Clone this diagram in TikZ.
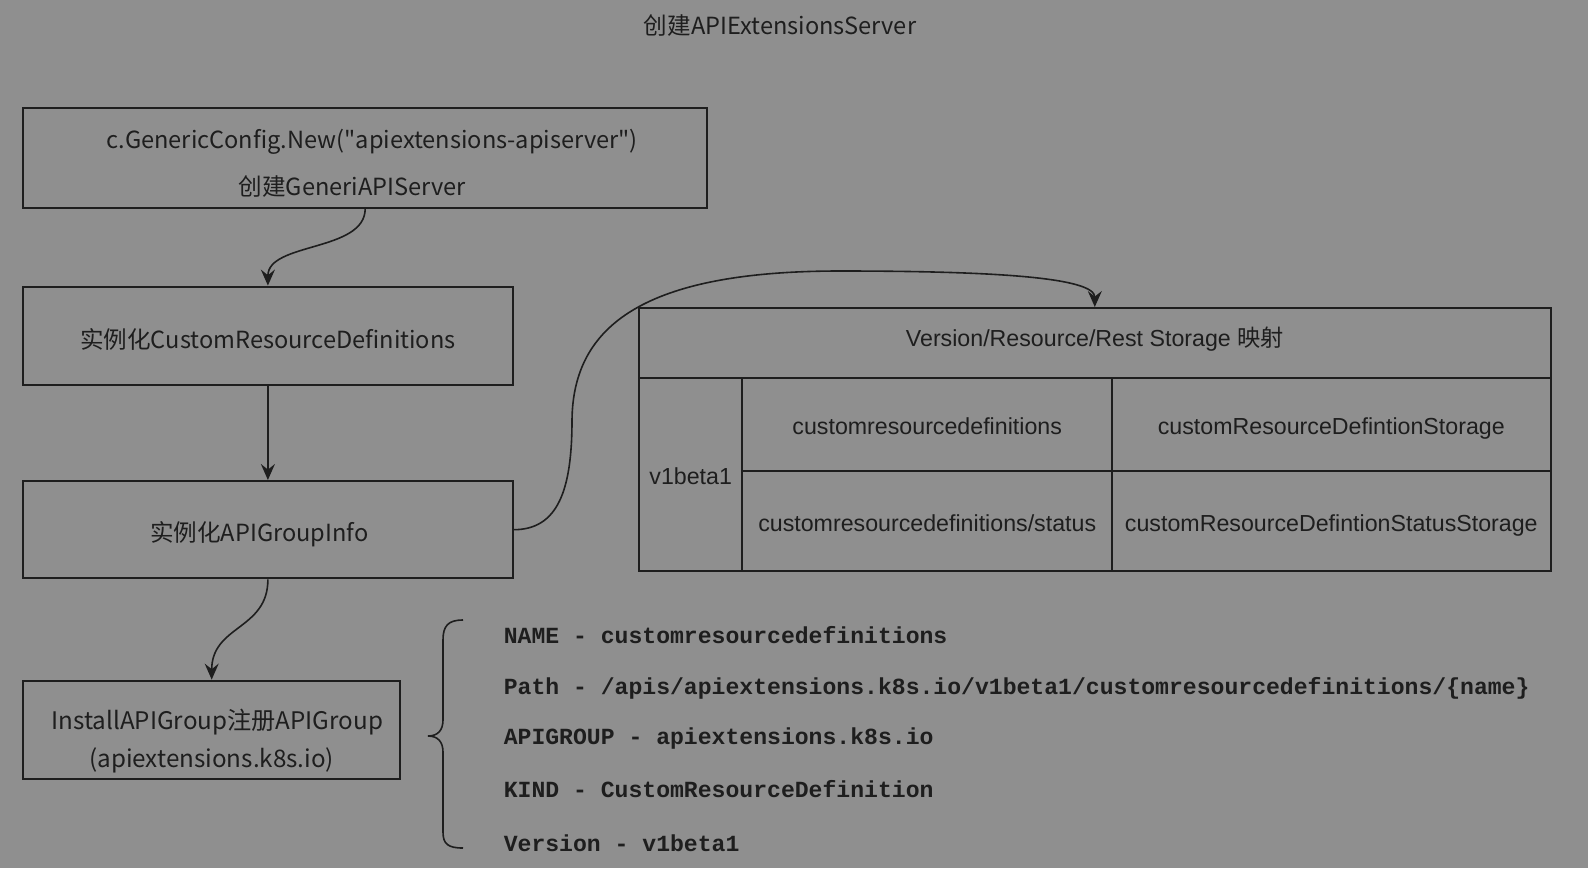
\documentclass[tikz,border=0pt]{standalone}
\usepackage{fontspec}
\newfontfamily\cjk{Noto Sans CJK SC}
\newfontfamily\tabfont{Liberation Sans}
\newfontfamily\codefont{Liberation Mono}
\usetikzlibrary{arrows.meta}
\definecolor{bg}{HTML}{8F8F8F}
\definecolor{ink}{HTML}{1E1E1E}
\newcommand\twolines[3]{\raisebox{#1}[\height][\depth]{\begin{tabular}{@{}c@{}}#2\\#3\end{tabular}}}
\newcommand\lowered[2]{\raisebox{#1}[\height][\depth]{#2}}
\begin{document}
\begin{tikzpicture}[x=0.5pt,y=-0.5pt,
  box/.style={draw=ink, line width=1pt, inner sep=0pt, text=ink, align=center},
  boxfont/.style={font=\cjk\fontsize{11.8}{#1}\selectfont},
  cell/.style={draw=ink, line width=1pt, inner sep=0pt, text height=12.3pt, text depth=2.4pt,
    font=\tabfont\fontsize{11.6}{14}\selectfont, text=ink},
  code/.style={anchor=base west, inner sep=0pt, font=\codefont\bfseries\fontsize{11.55}{14}\selectfont, text=ink},
  flow/.style={draw=ink, line width=0.8pt, -{Stealth[length=8pt,width=7pt,inset=2.8pt]}},
]
\fill[bg] (0,0) rectangle (1588,868);
\useasboundingbox (0,0) rectangle (1588,868);

\node[inner sep=0pt, text=ink, boxfont=16] (title) at (780,26) {创建APIExtensionsServer};

\node[box, boxfont=23.25, minimum width=341.9pt, minimum height=49.6pt] (b1) at (365.2,158)
  {\twolines{-2.3pt}{\hspace*{7pt}c.GenericConfig.New("apiextensions-apiserver")}{创建GeneriAPIServer\hspace*{13pt}}};
\node[box, boxfont=16, minimum width=244.6pt, minimum height=49.2pt] (b2) at (267.9,335.8)
  {\lowered{-2pt}{实例化CustomResourceDefinitions}};
\node[box, boxfont=16, minimum width=244.6pt, minimum height=48.7pt] (b3) at (267.9,529.7)
  {\lowered{-2pt}{实例化APIGroupInfo\hspace*{8.6pt}}};
\node[box, font=\cjk\fontsize{12.1}{18.8}\selectfont, minimum width=188.4pt, minimum height=49.1pt] (b4) at (211.7,729.7)
  {\twolines{-5.5pt}{\hspace*{5.6pt}InstallAPIGroup注册APIGroup}{(apiextensions.k8s.io)}};

\node[cell, text depth=8.4pt, minimum width=455.8pt, minimum height=34.9pt] (hdr) at (1094.8,342.9)
  {Version/Resource/Rest Storage {\cjk 映射}};
\node[cell, minimum width=51.7pt, minimum height=96.7pt] (ver) at (690.7,474.5) {v1beta1};
\node[cell, minimum width=184.8pt, minimum height=46.6pt] (c11) at (927.2,424.4) {customresourcedefinitions};
\node[cell, minimum width=219.3pt, minimum height=46.6pt] (c12) at (1331.3,424.4) {customResourceDefintionStorage};
\node[cell, minimum width=184.8pt, minimum height=50.1pt] (c21) at (927.2,521.1) {customresourcedefinitions/status};
\node[cell, minimum width=219.3pt, minimum height=50.1pt] (c22) at (1331.3,521.1) {customResourceDefintionStatusStorage};

\draw[flow] (b1.south) .. controls (365.2,252) and (267.9,242) .. (b2.north);
\draw[flow] (b2.south) -- (b3.north);
\draw[flow] (b3.south) .. controls (267.9,630) and (211.7,625) .. (b4.north);
\draw[flow] (b3.east) .. controls (558,529.7) and (572,490) .. (572,420)
  .. controls (573,325) and (645,271) .. (840,271)
  .. controls (1000,271) and (1094.8,278) .. (hdr.north);

\draw[ink, line width=0.8pt] (463,620) .. controls (448,620) and (443,626) .. (443,640) -- (443,720)
  .. controls (443,730) and (438,736) .. (428,736)
  .. controls (438,736) and (443,742) .. (443,752) -- (443,832)
  .. controls (443,844) and (448,848) .. (463,848);

\node[code] (l1) at (503.4,643.5) {NAME - customresourcedefinitions};
\node[code] (l2) at (503.4,694) {Path - /apis/apiextensions.k8s.io/v1beta1/customresourcedefinitions/\{name\}};
\node[code] (l3) at (503.4,744) {APIGROUP - apiextensions.k8s.io};
\node[code] (l4) at (503.4,797.5) {KIND - CustomResourceDefinition};
\node[code] (l5) at (503.4,851) {Version - v1beta1};
\end{tikzpicture}
\end{document}
